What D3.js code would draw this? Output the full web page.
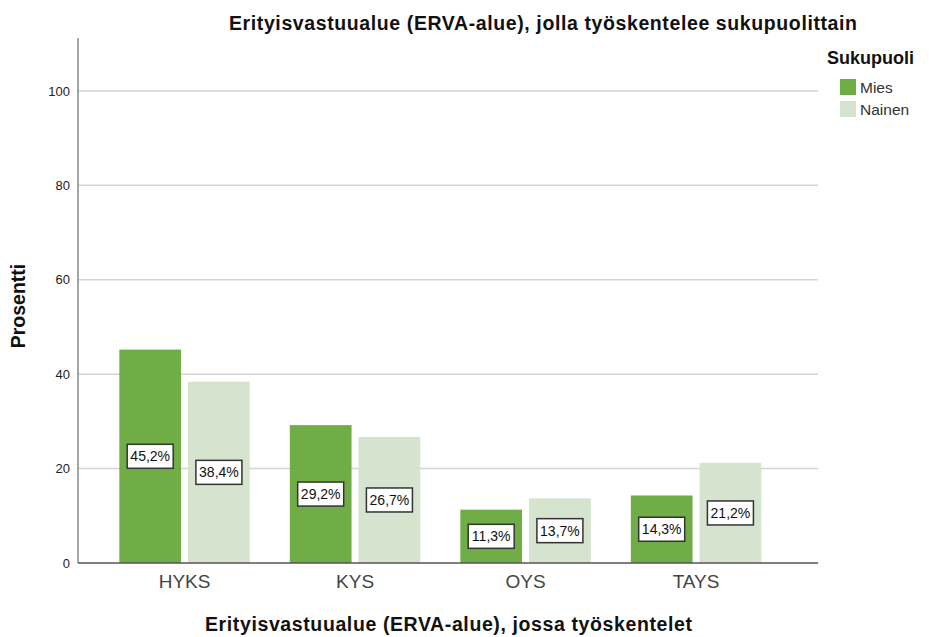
<!DOCTYPE html>
<html>
<head>
<meta charset="utf-8">
<script src="https://cdn.jsdelivr.net/npm/d3@7"></script>
<style>
  body { margin: 0; background: #fff; }
  text { font-family: "Liberation Sans", Arial, sans-serif; }
</style>
</head>
<body>
<div id="chart"></div>
<script>
const categories = ["HYKS", "KYS", "OYS", "TAYS"];
const groups = ["Mies", "Nainen"];
const mies = [45.2, 29.2, 11.3, 14.3];
const nainen = [38.4, 26.7, 13.7, 21.2];
const yTicks = [0, 20, 40, 60, 80, 100];

const width = 929, height = 637;
const colors = {"Mies": "#70ad47", "Nainen": "#d5e3cf"};

let data = categories.map(function(c, i) {
  return {cat: c, values: [{g: "Mies", v: mies[i]}, {g: "Nainen", v: nainen[i]}]};
});

let svg = d3.select("#chart").append("svg")
  .attr("width", width)
  .attr("height", height);

let plotLeft = 78, plotRight = 818, plotTop = 38, plotBottom = 563;

let y = d3.scaleLinear().domain([0, 111.2]).range([plotBottom, plotTop]);

let x0 = d3.scaleBand().domain(categories)
  .range([99.3, 781.3])
  .paddingInner(0.235)
  .paddingOuter(0.1175);

let x1 = d3.scaleBand().domain(groups)
  .range([0, x0.bandwidth()])
  .paddingInner(0.102);

// gridlines
svg.append("g")
  .selectAll("line")
  .data(yTicks.filter(function(t) { return t > 0; }))
  .enter().append("line")
  .attr("x1", plotLeft).attr("x2", plotRight)
  .attr("y1", function(d) { return y(d); })
  .attr("y2", function(d) { return y(d); })
  .attr("stroke", "#d4d4d4")
  .attr("stroke-width", 1.5);

// y axis
let yAxis = svg.append("g")
  .attr("transform", "translate(" + plotLeft + ",0)")
  .call(d3.axisLeft(y).tickValues(yTicks).tickSize(0).tickPadding(8));
yAxis.select(".domain").remove();
yAxis.selectAll("text")
  .attr("font-size", 13)
  .attr("fill", "#222")
  .style("font-family", "Liberation Sans, Arial, sans-serif");

svg.append("line")
  .attr("x1", plotLeft).attr("x2", plotLeft)
  .attr("y1", plotTop).attr("y2", plotBottom)
  .attr("stroke", "#888").attr("stroke-width", 1.5);

// bars
let group = svg.selectAll(".grp")
  .data(data)
  .enter().append("g")
  .attr("class", "grp")
  .attr("transform", function(d) { return "translate(" + x0(d.cat) + ",0)"; });

group.selectAll("rect")
  .data(function(d) { return d.values; })
  .enter().append("rect")
  .attr("x", function(d) { return x1(d.g); })
  .attr("y", function(d) { return y(d.v); })
  .attr("width", x1.bandwidth())
  .attr("height", function(d) { return y(0) - y(d.v); })
  .attr("fill", function(d) { return colors[d.g]; });

// value labels
let lbl = group.selectAll(".lbl")
  .data(function(d) { return d.values; })
  .enter().append("g")
  .attr("class", "lbl")
  .attr("transform", function(d) {
    return "translate(" + (x1(d.g) + x1.bandwidth() / 2) + "," + y(d.v / 2) + ")";
  });

lbl.append("rect")
  .attr("x", -23).attr("y", -12)
  .attr("width", 46).attr("height", 24)
  .attr("fill", "#fff")
  .attr("stroke", "#333")
  .attr("stroke-width", 1.5);

lbl.append("text")
  .attr("text-anchor", "middle")
  .attr("dy", "0.36em")
  .attr("font-size", 14)
  .attr("fill", "#111")
  .text(function(d) { return d3.format(".1f")(d.v).replace(".", ",") + "%"; });

// baseline
svg.append("line")
  .attr("x1", plotLeft).attr("x2", plotRight)
  .attr("y1", plotBottom).attr("y2", plotBottom)
  .attr("stroke", "#555").attr("stroke-width", 1.5);

// x axis labels
let xAxis = svg.append("g")
  .attr("transform", "translate(0," + plotBottom + ")")
  .call(d3.axisBottom(x0).tickSize(0).tickPadding(12));
xAxis.select(".domain").remove();
xAxis.selectAll("text")
  .attr("font-size", 19)
  .attr("fill", "#444")
  .style("font-family", "Liberation Sans, Arial, sans-serif");

// titles
svg.append("text")
  .attr("x", 543).attr("y", 30)
  .attr("text-anchor", "middle")
  .attr("font-size", 19.5)
  .attr("font-weight", "bold")
  .attr("fill", "#111")
  .attr("textLength", 628)
  .attr("lengthAdjust", "spacing")
  .text("Erityisvastuualue (ERVA-alue), jolla työskentelee sukupuolittain");

svg.append("text")
  .attr("x", 448.5).attr("y", 631)
  .attr("text-anchor", "middle")
  .attr("font-size", 19.5)
  .attr("font-weight", "bold")
  .attr("fill", "#111")
  .attr("textLength", 487)
  .attr("lengthAdjust", "spacing")
  .text("Erityisvastuualue (ERVA-alue), jossa työskentelet");

svg.append("text")
  .attr("transform", "translate(25,306) rotate(-90)")
  .attr("text-anchor", "middle")
  .attr("font-size", 19.5)
  .attr("font-weight", "bold")
  .attr("fill", "#111")
  .text("Prosentti");

// legend
let legend = svg.append("g").attr("transform", "translate(827,0)");
legend.append("text")
  .attr("x", 0).attr("y", 64)
  .attr("font-size", 18)
  .attr("font-weight", "bold")
  .attr("fill", "#111")
  .text("Sukupuoli");

let item = legend.selectAll(".item")
  .data(groups)
  .enter().append("g")
  .attr("class", "item")
  .attr("transform", function(d, i) { return "translate(13," + (79 + i * 22) + ")"; });
item.append("rect")
  .attr("width", 16).attr("height", 16)
  .attr("fill", function(d) { return colors[d]; });
item.append("text")
  .attr("x", 20).attr("y", 14)
  .attr("font-size", 15.5)
  .attr("fill", "#333")
  .text(function(d) { return d; });
</script>
</body>
</html>
